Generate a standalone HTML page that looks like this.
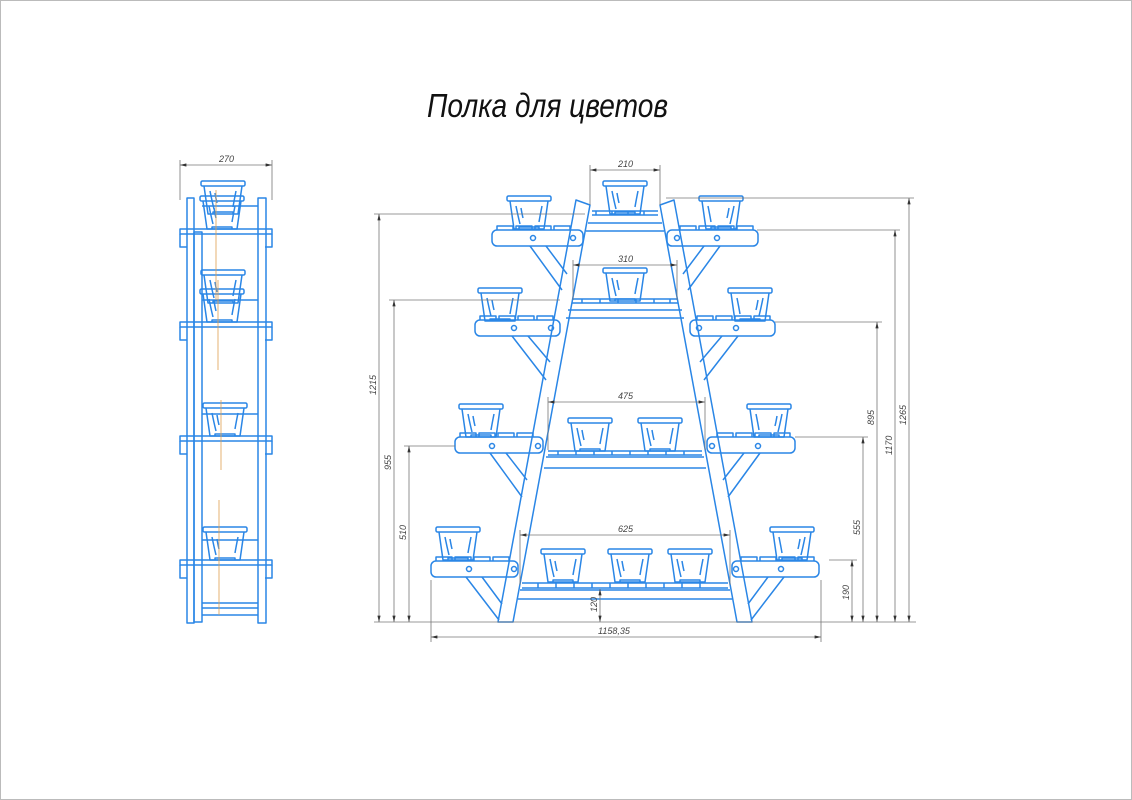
<!DOCTYPE html>
<html><head><meta charset="utf-8"><style>
html,body{margin:0;padding:0;background:#fff}
svg{display:block}
.b{fill:none;stroke:#2a86e6;stroke-width:1.5;stroke-linejoin:round}
.d{fill:none;stroke:#777;stroke-width:0.8}
.t{font-family:"Liberation Sans",sans-serif;font-style:italic;font-size:9px;fill:#444}
</style></head><body>
<svg width="1132" height="800" viewBox="0 0 1132 800" xmlns="http://www.w3.org/2000/svg">
<defs>
<marker id="ar" viewBox="0 0 8 4" refX="8" refY="2" markerWidth="8" markerHeight="4" orient="auto-start-reverse"><path d="M0 0L8 2L0 4z" fill="#333"/></marker>
<g id="pot" class="b"><rect x="-22" y="0" width="44" height="5" rx="1.5"/><path d="M-19 5L-15 33L15 33L19 5"/><path d="M-13 10Q-11 20-9 28M13 10Q11 20 10 26M-8 12Q-7 18-6 22M-10 33v-2h20v2"/></g>
<g id="half">
<!-- leg -->
<polygon class="b" points="576,200 590,205 513,622 498,622"/>
<!-- tier boards -->
<g class="b">
<rect x="492" y="230" width="91" height="16" rx="5"/><circle cx="533" cy="238" r="2.5"/><circle cx="573" cy="238" r="2.5"/>
<path d="M497 230v-4h16v4M516 230v-4h16v4M535 230v-4h16v4M554 230v-4h16v4"/>
<path d="M530 246L562 290M546 246L567 274"/>
<rect x="475" y="320" width="85" height="16" rx="5"/><circle cx="514" cy="328" r="2.5"/><circle cx="551" cy="328" r="2.5"/>
<path d="M480 320v-4h16v4M499 320v-4h16v4M518 320v-4h16v4M537 320v-4h16v4"/>
<path d="M512 336L546 380M528 336L550 362"/>
<rect x="455" y="437" width="88" height="16" rx="5"/><circle cx="492" cy="446" r="2.5"/><circle cx="538" cy="446" r="2.5"/>
<path d="M460 437v-4h16v4M479 437v-4h16v4M498 437v-4h16v4M517 437v-4h16v4"/>
<path d="M490 453L522 497M506 453L527 480"/>
<rect x="431" y="561" width="87" height="16" rx="5"/><circle cx="469" cy="569" r="2.5"/><circle cx="514" cy="569" r="2.5"/>
<path d="M436 561v-4h16v4M455 561v-4h16v4M474 561v-4h16v4M493 561v-4h16v4"/>
<path d="M466 577L499 620M482 577L502 604"/>
</g>
<use href="#pot" x="529" y="196"/>
<use href="#pot" x="500" y="288"/>
<use href="#pot" x="481" y="404"/>
<use href="#pot" x="458" y="527"/>
</g>
</defs>
<rect x="0.5" y="0.5" width="1131" height="799" fill="none" stroke="#bbb"/>
<text x="427" y="117" font-family="Liberation Sans, sans-serif" font-style="italic" font-size="33" textLength="241" lengthAdjust="spacingAndGlyphs" fill="#111">Полка для цветов</text>

<use href="#half"/>
<use href="#half" transform="translate(1250,0) scale(-1,1)"/>

<!-- center shelves -->
<g class="b">
<path d="M592 215h66M592 211h66M596 211v4M612 211v4M628 211v4M644 211v4"/>
<path d="M588 223h74M586 231h78"/>
<path d="M572 303h106M572 299h106M582 299v4M600 299v4M618 299v4M636 299v4M654 299v4M670 299v4"/>
<path d="M568 310h114M566 318h118"/>
<path d="M548 455h154M548 451h154M558 451v4M576 451v4M594 451v4M612 451v4M630 451v4M648 451v4M666 451v4M684 451v4"/>
<path d="M546 457h158M544 468h162"/>
<path d="M522 588h206M522 583h206M538 583v5M556 583v5M574 583v5M592 583v5M610 583v5M628 583v5M646 583v5M664 583v5M682 583v5M700 583v5"/>
<path d="M520 590h210M518 599h214"/>
</g>
<use href="#pot" x="625" y="181"/>
<use href="#pot" x="625" y="268"/>
<use href="#pot" x="590" y="418"/>
<use href="#pot" x="660" y="418"/>
<use href="#pot" x="563" y="549"/>
<use href="#pot" x="630" y="549"/>
<use href="#pot" x="690" y="549"/>

<!-- dimensions main -->
<g class="d">
<path d="M590 205V165M660 205V165"/><line x1="590" y1="170" x2="660" y2="170" marker-start="url(#ar)" marker-end="url(#ar)"/>
<path d="M573 300V260M677 300V260"/><line x1="573" y1="265" x2="677" y2="265" marker-start="url(#ar)" marker-end="url(#ar)"/>
<path d="M548 450V397M705 450V397"/><line x1="548" y1="402" x2="705" y2="402" marker-start="url(#ar)" marker-end="url(#ar)"/>
<path d="M520 585V530M730 585V530"/><line x1="520" y1="535" x2="730" y2="535" marker-start="url(#ar)" marker-end="url(#ar)"/>
<path d="M431 580V642M821 580V642"/><line x1="431" y1="637" x2="821" y2="637" marker-start="url(#ar)" marker-end="url(#ar)"/>
<line x1="600" y1="589" x2="600" y2="622" marker-start="url(#ar)" marker-end="url(#ar)"/>
<path d="M374 622H916"/>
<path d="M374 214H585"/><line x1="379" y1="214" x2="379" y2="622" marker-start="url(#ar)" marker-end="url(#ar)"/>
<path d="M389 300H560"/><line x1="394" y1="300" x2="394" y2="622" marker-start="url(#ar)" marker-end="url(#ar)"/>
<path d="M404 446H455"/><line x1="409" y1="446" x2="409" y2="622" marker-start="url(#ar)" marker-end="url(#ar)"/>
<path d="M666 198H914"/><line x1="909" y1="198" x2="909" y2="622" marker-start="url(#ar)" marker-end="url(#ar)"/>
<path d="M757 230H900"/><line x1="895" y1="230" x2="895" y2="622" marker-start="url(#ar)" marker-end="url(#ar)"/>
<path d="M775 322H882"/><line x1="877" y1="322" x2="877" y2="622" marker-start="url(#ar)" marker-end="url(#ar)"/>
<path d="M795 437H868"/><line x1="863" y1="437" x2="863" y2="622" marker-start="url(#ar)" marker-end="url(#ar)"/>
<path d="M829 560H857"/><line x1="852" y1="560" x2="852" y2="622" marker-start="url(#ar)" marker-end="url(#ar)"/>
<path d="M180 200V160M272 200V160"/><line x1="180" y1="165" x2="272" y2="165" marker-start="url(#ar)" marker-end="url(#ar)"/>
</g>
<g class="t">
<text x="618" y="167">210</text><text x="618" y="262">310</text><text x="618" y="399">475</text><text x="618" y="532">625</text>
<text x="598" y="634">1158,35</text><text x="219" y="162">270</text>
<text transform="translate(597,612) rotate(-90)">120</text>
<text transform="translate(376,395) rotate(-90)">1215</text>
<text transform="translate(391,470) rotate(-90)">955</text>
<text transform="translate(406,540) rotate(-90)">510</text>
<text transform="translate(906,425) rotate(-90)">1265</text>
<text transform="translate(892,455) rotate(-90)">1170</text>
<text transform="translate(874,425) rotate(-90)">895</text>
<text transform="translate(860,535) rotate(-90)">555</text>
<text transform="translate(849,600) rotate(-90)">190</text>
</g>

<!-- side view -->
<g class="b">
<rect x="187" y="198" width="7" height="425"/>
<rect x="194" y="232" width="8" height="390"/>
<rect x="258" y="198" width="8" height="425"/>
<path d="M202 206h56M202 300h56M202 414h56M202 540h56M202 603h56M202 608h56M202 615h56"/>
<g id="sh"><rect x="180" y="229" width="92" height="5"/><path d="M180 234v13h7M272 234v13h-7"/></g>
<use href="#sh" y="93"/><use href="#sh" y="207"/><use href="#sh" y="331"/>
</g>
<use href="#pot" x="223" y="181"/>
<use href="#pot" x="222" y="196"/>
<use href="#pot" x="223" y="270"/>
<use href="#pot" x="222" y="289"/>
<use href="#pot" x="225" y="403"/>
<use href="#pot" x="225" y="527"/>
<g stroke="#e0a050" stroke-width="0.8">
<path d="M216 190V300M218 280V370M221 400V470M219 500V615"/>
</g>
</svg>
</body></html>
